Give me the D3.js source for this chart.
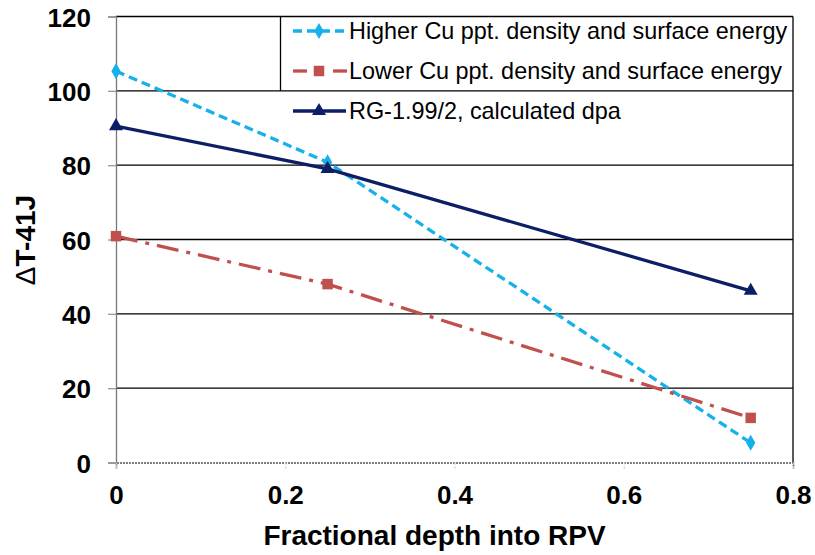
<!DOCTYPE html>
<html><head><meta charset="utf-8">
<script src="https://cdn.jsdelivr.net/npm/d3@7"></script>
<style>body{margin:0;background:#fff}svg{display:block}</style>
</head><body>
<script>
const depths = [0, 0.25, 0.75];
const higherCu = [105.3, 80.8, 5.3];
const lowerCu = [60.9, 48, 12];
const rg199 = [90.5, 79, 46.2];
const seriesNames = ["Higher Cu ppt. density and surface energy", "Lower Cu ppt. density and surface energy", "RG-1.99/2, calculated dpa"];
const yTicks = [0, 20, 40, 60, 80, 100, 120];
const xTicks = [0, 0.2, 0.4, 0.6, 0.8];
const xTickLabels = ["0", "0.2", "0.4", "0.6", "0.8"];

const W = 815, H = 555;
const svg = d3.select("body").append("svg").attr("width", W).attr("height", H);
const x = d3.scaleLinear().domain([0, 0.8]).range([116, 793]);
const y = d3.scaleLinear().domain([0, 120]).range([462.5, 16.5]);
const font = "'Liberation Sans', Arial, sans-serif";

// gridlines
svg.append("g").selectAll("line").data(yTicks.filter(d => d > 0)).join("line")
  .attr("x1", x(0)).attr("x2", x(0.8)).attr("y1", d => y(d)).attr("y2", d => y(d))
  .attr("stroke", "#000").attr("stroke-width", 1.3);
// right border
svg.append("line").attr("x1", x(0.8)).attr("x2", x(0.8)).attr("y1", y(120)).attr("y2", y(0))
  .attr("stroke", "#000").attr("stroke-width", 1.3);

// y axis
const yAxis = d3.axisLeft(y).tickValues(yTicks).tickSize(8).tickFormat(d3.format("d"));
const gy = svg.append("g").attr("transform", `translate(${x(0)},0)`).call(yAxis);
gy.select(".domain").attr("stroke", "#777").attr("stroke-width", 1.3);
gy.selectAll(".tick line").attr("stroke", "#999").attr("stroke-width", 1.3);
gy.selectAll(".tick text").attr("x", -25).attr("dy", null).attr("y", 9.5)
  .attr("font-family", font).attr("font-weight", "bold").attr("font-size", 26).attr("fill", "#000");

// x axis
const xAxis = d3.axisBottom(x).tickValues(xTicks).tickSize(6).tickFormat((d, i) => xTickLabels[i]);
const gx = svg.append("g").attr("transform", `translate(0,${y(0)})`).call(xAxis);
gx.select(".domain").attr("stroke", "#555").attr("stroke-width", 1.5).attr("stroke-dasharray", "2,1");
gx.selectAll(".tick line").attr("stroke", "#ccc").attr("stroke-width", 1.3).attr("stroke-dasharray", "2,2");
gx.selectAll(".tick text").attr("y", 41.5).attr("dy", null)
  .attr("font-family", font).attr("font-weight", "bold").attr("font-size", 26).attr("fill", "#000");

// axis titles
svg.append("text").attr("x", (x(0) + x(0.8)) / 2 - 20).attr("y", 545).attr("text-anchor", "middle")
  .attr("font-family", font).attr("font-weight", "bold").attr("font-size", 28).text("Fractional depth into RPV");
const yt = svg.append("text").attr("transform", "translate(35,240) rotate(-90)").attr("text-anchor", "middle")
  .attr("font-family", font).attr("font-weight", "bold").attr("font-size", 28);
yt.append("tspan").attr("font-weight", "normal").text("Δ");
yt.append("tspan").text("T-41J");

// legend box left edge
svg.append("line").attr("x1", 280.5).attr("x2", 280.5).attr("y1", y(120)).attr("y2", y(100))
  .attr("stroke", "#000").attr("stroke-width", 1.3);

const series = [
  {name: seriesNames[0], vals: higherCu, color: "#17B1EA", dash: "9,5", marker: "diamond"},
  {name: seriesNames[1], vals: lowerCu, color: "#C0504D", dash: "22,8,4,8", marker: "square"},
  {name: seriesNames[2], vals: rg199, color: "#0B1E66", dash: null, marker: "triangle"}
];
const line = d3.line().x(d => x(d[0])).y(d => y(d[1]));
const sym = {diamond: d3.symbol().type(d3.symbolDiamond).size(75),
             square: d3.symbol().type(d3.symbolSquare).size(110),
             triangle: d3.symbol().type(d3.symbolTriangle).size(85)};

series.forEach(s => {
  const pts = depths.map((d, i) => [d, s.vals[i]]);
  svg.append("path").datum(pts).attr("d", line).attr("fill", "none")
    .attr("stroke", s.color).attr("stroke-width", 3.3).attr("stroke-dasharray", s.dash);
  svg.append("g").selectAll("path").data(pts).join("path")
    .attr("transform", d => `translate(${x(d[0])},${y(d[1])})`)
    .attr("d", sym[s.marker]).attr("fill", s.color);
});

// legend
const legY = [31, 71, 111];
series.forEach((s, i) => {
  const g = svg.append("g").attr("transform", `translate(0,${legY[i]})`);
  if (i === 1) {
    g.append("line").attr("x1", 293).attr("x2", 307).attr("stroke", s.color).attr("stroke-width", 3.3);
    g.append("line").attr("x1", 333).attr("x2", 347).attr("stroke", s.color).attr("stroke-width", 3.3);
  } else {
    g.append("line").attr("x1", 293).attr("x2", 346).attr("stroke", s.color).attr("stroke-width", 3.3)
      .attr("stroke-dasharray", s.dash);
  }
  g.append("path").attr("transform", "translate(319,0)").attr("d", sym[s.marker]).attr("fill", s.color);
  g.append("text").attr("x", 349).attr("y", 8).attr("font-family", font).attr("font-size", 23.4)
    .attr("fill", "#000").text(s.name);
});
</script>
</body></html>
